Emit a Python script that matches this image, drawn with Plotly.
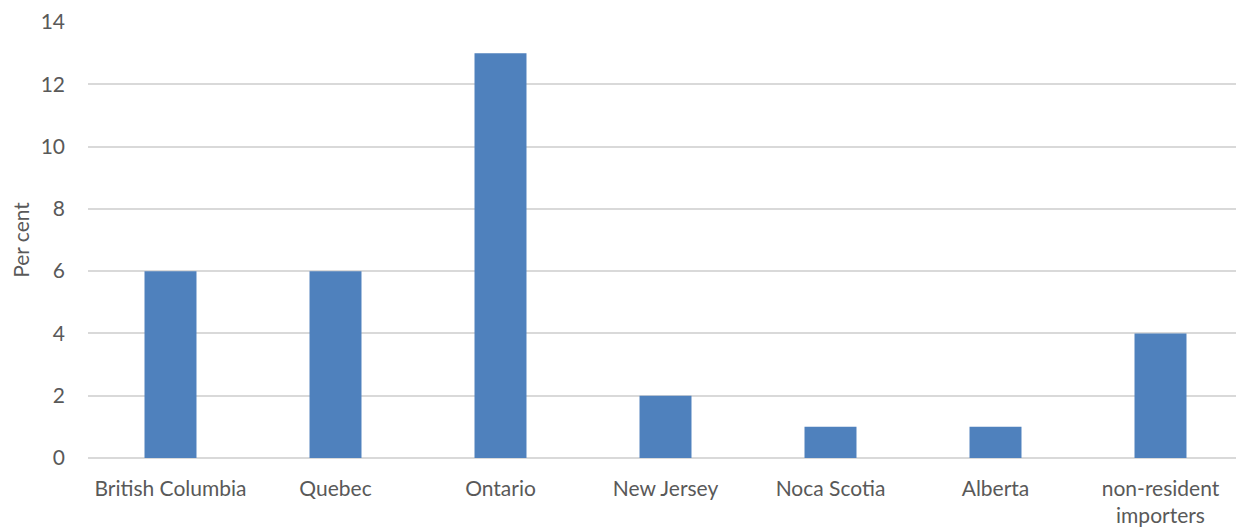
import plotly.graph_objects as go

categories = ["British Columbia", "Quebec", "Ontario", "New Jersey", "Noca Scotia", "Alberta", "non-resident<br>importers"]
values = [6, 6, 13, 2, 1, 1, 4]
y_ticks = [0, 2, 4, 6, 8, 10, 12, 14]

fig = go.Figure(go.Bar(x=categories, y=values, marker=dict(color="#4F81BD", line=dict(width=0))))

font = dict(family="Lato, Carlito, Liberation Sans, sans-serif", size=21, color="#595959")
fig.update_layout(
    width=1236, height=523,
    margin=dict(l=80, r=1, t=14, b=73),
    plot_bgcolor="white", paper_bgcolor="white",
    bargap=0.685,
    font=font,
    showlegend=False,
)
fig.update_xaxes(showgrid=False, zeroline=False, showline=False, ticks="", tickfont=font, ticklabelstandoff=16)
fig.update_yaxes(range=[0, 14], tickvals=y_ticks, showgrid=True, gridcolor="#D9D9D9", gridwidth=1.5,
                 zeroline=True, zerolinecolor="#D9D9D9", zerolinewidth=1.5, showline=False, ticks="",
                 tickfont=font, ticklabelstandoff=22,
                 title=dict(text="Per cent", font=font, standoff=14))
fig.write_html("out.html")
